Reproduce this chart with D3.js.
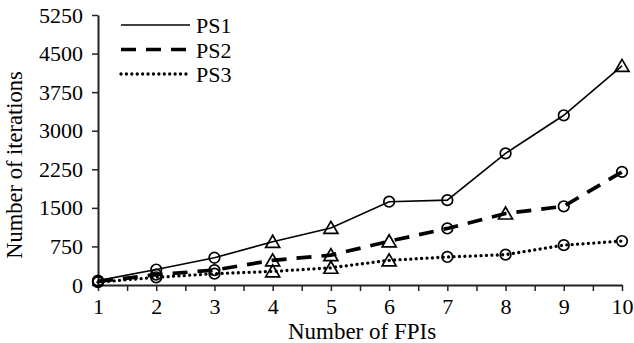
<!DOCTYPE html>
<html>
<head>
<meta charset="utf-8">
<script src="https://cdn.jsdelivr.net/npm/d3@7"></script>
<style>
  html, body { margin: 0; padding: 0; background: #fff; }
  svg { display: block; font-family: "Liberation Serif", "Times New Roman", serif; }
</style>
</head>
<body>
<svg id="chart" width="634" height="343"></svg>
<script>
// Number of FPIs on the x axis
const fpis = [1, 2, 3, 4, 5, 6, 7, 8, 9, 10];

// Iteration counts per problem set
const ps1 = [85, 300, 530, 840, 1110, 1620, 1650, 2560, 3300, 4260];
const ps2 = [70, 200, 290, 480, 580, 850, 1100, 1390, 1530, 2200];
const ps3 = [55, 150, 220, 265, 335, 480, 545, 590, 775, 855];

// Marker shape for each point: "c" circle, "t" triangle
const ps1Marks = ["c", "c", "c", "t", "t", "c", "c", "c", "c", "t"];
const ps2Marks = ["c", "c", "c", "t", "t", "t", "c", "t", "c", "c"];
const ps3Marks = ["c", "c", "c", "t", "t", "t", "c", "c", "c", "c"];

const seriesNames = ["PS1", "PS2", "PS3"];
const yTicks = [0, 750, 1500, 2250, 3000, 3750, 4500, 5250];
const xTicks = d3.range(1, 10.001, 0.5);

const series = [
  { name: seriesNames[0], values: ps1, marks: ps1Marks, width: 1.6, dash: null, cap: "butt" },
  { name: seriesNames[1], values: ps2, marks: ps2Marks, width: 3.7, dash: "15,10", cap: "butt" },
  { name: seriesNames[2], values: ps3, marks: ps3Marks, width: 3.3, dash: "0.01,5.4", cap: "round" }
];

const svg = d3.select("#chart");
const x = d3.scaleLinear().domain([1, 10]).range([98, 622]);
const y = d3.scaleLinear().domain([0, 5250]).range([285, 15]);
const fontSize = 22;

// Axes
const xAxis = d3.axisBottom(x)
  .tickValues(xTicks)
  .tickFormat(d => Number.isInteger(d) ? String(d) : "")
  .tickSize(6).tickSizeOuter(0).tickPadding(6);
const gx = svg.append("g").attr("transform", `translate(0,${y(0)})`).call(xAxis);

const yAxis = d3.axisLeft(y)
  .tickValues(yTicks)
  .tickFormat(d3.format("d"))
  .tickSize(6).tickSizeOuter(0).tickPadding(9);
const gy = svg.append("g").attr("transform", `translate(${x(1)},0)`).call(yAxis);

[gx, gy].forEach(g => {
  g.attr("font-family", "'Liberation Serif', serif").attr("font-size", fontSize);
  g.select(".domain").attr("stroke", "#222").attr("stroke-width", 2);
  g.selectAll(".tick line").attr("stroke", "#222").attr("stroke-width", 1.5);
  g.selectAll(".tick text").attr("fill", "#000");
});
gx.selectAll(".tick text").attr("dy", "0.75em");

// Axis titles
svg.append("text")
  .attr("x", (x(1) + x(10)) / 2 + 2)
  .attr("y", 339)
  .attr("text-anchor", "middle")
  .style("font-size", "23px")
  .text("Number of FPIs");

svg.append("text")
  .attr("transform", `translate(22,165) rotate(-90)`)
  .attr("text-anchor", "middle")
  .style("font-size", "22.5px")
  .text("Number of iterations");

// Lines
const line = d3.line().x((d, i) => x(fpis[i])).y(d => y(d));

series.forEach(s => {
  svg.append("path")
    .datum(s.values)
    .attr("fill", "none")
    .attr("stroke", "#000")
    .attr("stroke-width", s.width)
    .attr("stroke-dasharray", s.dash)
    .attr("stroke-linecap", s.cap)
    .attr("d", line);
});

// Hollow markers
const triPath = "M0,-6.5L7,5.5L-7,5.5Z";
series.forEach(s => {
  const g = svg.append("g");
  s.values.forEach((v, i) => {
    if (s.marks[i] === "c") {
      g.append("circle")
        .attr("cx", x(fpis[i])).attr("cy", y(v)).attr("r", 5.3)
        .attr("fill", "none").attr("stroke", "#000").attr("stroke-width", 1.7);
    } else {
      g.append("path")
        .attr("transform", `translate(${x(fpis[i])},${y(v)})`)
        .attr("d", triPath)
        .attr("fill", "none").attr("stroke", "#000").attr("stroke-width", 1.7)
        .attr("stroke-linejoin", "miter");
    }
  });
});

// Legend
const legend = svg.append("g");
series.forEach((s, i) => {
  const ly = 25 + i * 24.5;
  legend.append("line")
    .attr("x1", 121).attr("x2", 190).attr("y1", ly).attr("y2", ly)
    .attr("stroke", "#000")
    .attr("stroke-width", s.width)
    .attr("stroke-dasharray", s.dash)
    .attr("stroke-linecap", s.cap);
  legend.append("text")
    .attr("x", 196).attr("y", ly + 8)
    .style("font-size", fontSize + "px")
    .text(s.name);
});
</script>
</body>
</html>
